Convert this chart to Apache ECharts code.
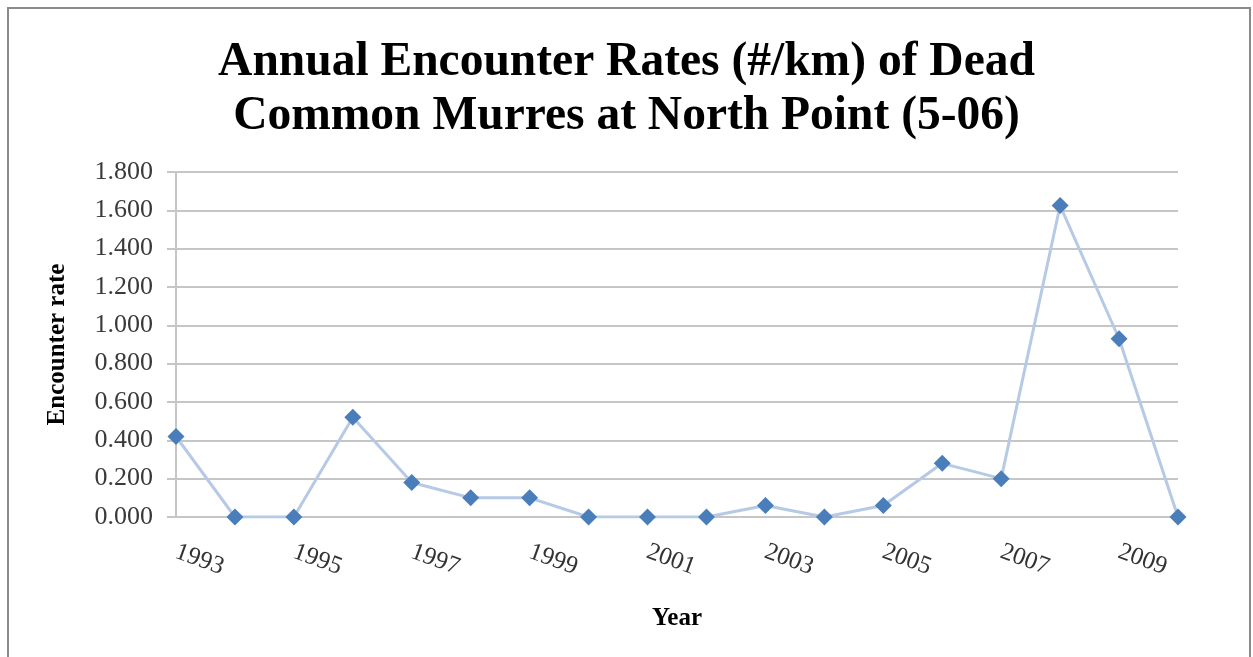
<!DOCTYPE html>
<html>
<head>
<meta charset="utf-8">
<title>Annual Encounter Rates of Dead Common Murres at North Point</title>
<script src="https://cdn.jsdelivr.net/npm/echarts@6/dist/echarts.min.js"></script>
<style>
  html, body { margin: 0; padding: 0; background: #ffffff; }
  #chart { width: 1253px; height: 657px; }
</style>
</head>
<body>
<div id="chart"></div>
<script>
// Survey years and encounter rates (dead birds per km)
const years = ['1993', '1994', '1995', '1996', '1997', '1998', '1999', '2000', '2001',
               '2002', '2003', '2004', '2005', '2006', '2007', '2008', '2009', '2010'];
const encounterRates = [0.42, 0, 0, 0.52, 0.18, 0.10, 0.10, 0, 0,
                        0, 0.06, 0, 0.06, 0.28, 0.20, 1.625, 0.93, 0];
const titleLines = ['Annual Encounter Rates (#/km) of Dead', 'Common Murres at North Point (5-06)'];
const xAxisTitle = 'Year';
const yAxisTitle = 'Encounter rate';

const serif = '"Liberation Serif", "Times New Roman", serif';

const chart = echarts.init(document.getElementById('chart'), null, { renderer: 'canvas' });

chart.setOption({
  backgroundColor: '#ffffff',
  animation: false,
  graphic: [{
    type: 'rect',
    shape: { x: 8, y: 8, width: 1242, height: 700 },
    style: { fill: 'none', stroke: '#8a8a8a', lineWidth: 2 },
    silent: true,
    z: -1
  }],
  title: {
    text: titleLines.join('\n'),
    left: 'center',
    top: 31,
    textStyle: {
      fontFamily: serif,
      fontWeight: 'bold',
      fontSize: 47.5,
      lineHeight: 54,
      color: '#000000'
    }
  },
  grid: {
    left: 176,
    right: 75,
    top: 172,
    bottom: 140,
    containLabel: false
  },
  xAxis: {
    type: 'category',
    data: years,
    boundaryGap: false,
    name: xAxisTitle,
    nameLocation: 'middle',
    nameGap: 89,
    nameTextStyle: { fontFamily: serif, fontWeight: 'bold', fontSize: 25, color: '#000000' },
    axisLine: { lineStyle: { color: '#c6c6c6', width: 2 } },
    axisTick: { show: false },
    axisLabel: {
      interval: 1,
      rotate: -20,
      margin: 34,
      fontFamily: serif,
      fontSize: 25,
      color: '#333333'
    },
    splitLine: { show: false }
  },
  yAxis: {
    type: 'value',
    min: 0,
    max: 1.8,
    interval: 0.2,
    name: yAxisTitle,
    nameLocation: 'middle',
    nameGap: 106,
    nameRotate: 90,
    nameTextStyle: { fontFamily: serif, fontWeight: 'bold', fontSize: 25, color: '#000000' },
    axisLine: { show: true, lineStyle: { color: '#c6c6c6', width: 2 } },
    axisTick: { show: true, length: 9, lineStyle: { color: '#c6c6c6', width: 2 } },
    axisLabel: {
      margin: 23,
      fontFamily: serif,
      fontSize: 26,
      color: '#3a3a3a',
      formatter: v => v.toFixed(3)
    },
    splitLine: { show: true, lineStyle: { color: '#c6c6c6', width: 2 } }
  },
  series: [{
    type: 'line',
    data: encounterRates,
    symbol: 'diamond',
    symbolSize: 17,
    itemStyle: { color: '#4a7ebb' },
    lineStyle: { color: '#b6c9e5', width: 3 },
    z: 3
  }]
});
</script>
</body>
</html>
